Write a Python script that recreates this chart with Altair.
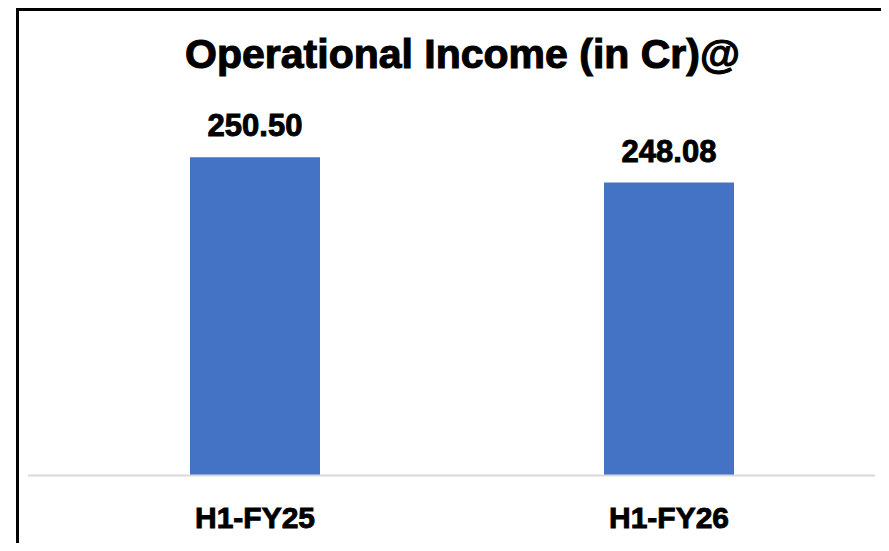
import altair as alt
import pandas as pd

categories = ["H1-FY25", "H1-FY26"]
values = [250.50, 248.08]
value_labels = ["250.50", "248.08"]
title_text = "Operational Income (in Cr)@"

FONT = "Liberation Sans"
W, H = 828, 364.5

df = pd.DataFrame({"period": categories, "income": values, "label": value_labels})
deco = pd.DataFrame({"k": [0]})

x = alt.X(
    "period:N", sort=categories, title=None,
    scale=alt.Scale(paddingInner=0.686, paddingOuter=0.343),
    axis=None,
)
y = alt.Y("income:Q", scale=alt.Scale(domain=[220, 255], zero=False, nice=False), axis=None)

bars = alt.Chart(df).mark_bar(color="#4472C4").encode(x=x, y=y, y2=alt.datum(220))

texts = alt.Chart(df).mark_text(
    font=FONT, fontSize=31, fontWeight="bold", color="black",
    stroke="black", strokeWidth=0.9,
    baseline="alphabetic", align="center", dy=-21,
).encode(x=x, y=y, text="label:N")

cat_labels = alt.Chart(df).mark_text(
    font=FONT, fontSize=30, fontWeight="bold", color="black",
    stroke="black", strokeWidth=0.9,
    baseline="alphabetic", align="center",
).encode(x=x, y=alt.value(H + 52.5), text="period:N")

baseline = alt.Chart(deco).mark_rule(color="#d9d9d9", strokeWidth=2).encode(
    x=alt.value(-20), x2=alt.value(827), y=alt.value(H + 0.5)
)

title = alt.Chart(deco).mark_text(
    text=title_text, font=FONT, fontSize=41, fontWeight="bold", color="black",
    stroke="black", strokeWidth=1.1,
    align="center", baseline="alphabetic",
).encode(x=alt.value(414.5), y=alt.value(-42.5))

frame_left = alt.Chart(deco).mark_rule(color="black", strokeWidth=3).encode(
    x=alt.value(-30.5), y=alt.value(-101), y2=alt.value(460)
)
frame_top = alt.Chart(deco).mark_rule(color="black", strokeWidth=3).encode(
    x=alt.value(-32), x2=alt.value(900), y=alt.value(-101)
)

chart = alt.layer(bars, baseline, texts, cat_labels, title, frame_left, frame_top).properties(
    width=W, height=H,
    padding={"left": 40, "top": 102.5, "right": 5, "bottom": 68},
    autosize=alt.AutoSizeParams(type="none"),
    background="white",
).configure_view(stroke=None)

chart.save("out.html", embed_options={"renderer": "svg", "actions": False})
